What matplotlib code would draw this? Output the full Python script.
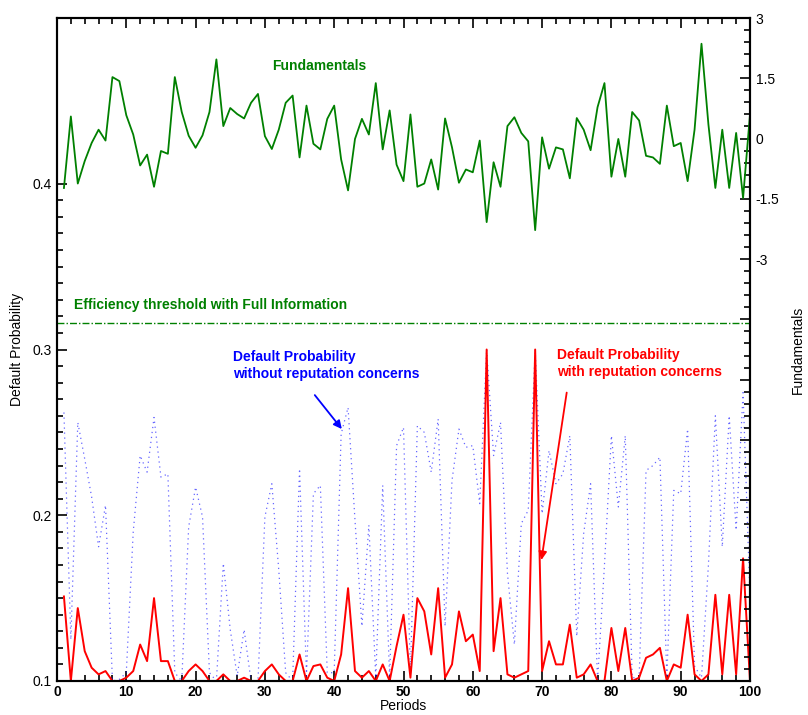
import numpy as np
import matplotlib
matplotlib.use('Agg')
import matplotlib.pyplot as plt
from matplotlib.ticker import FixedLocator, MultipleLocator

plt.rcParams['font.family'] = ['Liberation Sans', 'DejaVu Sans']

# periods 1..100
periods = list(range(1, 101))

# fundamentals (right axis)
fundamentals = [-1.23, 0.55, -1.12, -0.56, -0.11, 0.22, -0.05, 1.53, 1.43, 0.58,
                0.10, -0.67, -0.40, -1.20, -0.31, -0.38, 1.53, 0.66, 0.07, -0.23,
                0.08, 0.66, 1.97, 0.31, 0.76, 0.61, 0.50, 0.89, 1.11, 0.06,
                -0.26, 0.22, 0.89, 1.07, -0.47, 0.82, -0.13, -0.27, 0.49, 0.82,
                -0.52, -1.29, -0.01, 0.49, 0.10, 1.38, -0.27, 0.70, -0.65, -1.06,
                0.60, -1.20, -1.12, -0.52, -1.27, 0.50, -0.22, -1.10, -0.77, -0.84,
                -0.05, -2.08, -0.59, -1.20, 0.31, 0.53, 0.14, -0.07, -2.28, 0.03,
                -0.75, -0.22, -0.27, -0.99, 0.51, 0.22, -0.29, 0.78, 1.38, -0.95,
                -0.01, -0.95, 0.66, 0.45, -0.43, -0.47, -0.63, 0.82, -0.19, -0.11,
                -1.06, 0.22, 2.36, 0.35, -1.23, 0.22, -1.23, 0.14, -1.48, 0.60]

# default probability with reputation concerns
dp_reputation = [0.151, 0.100, 0.144, 0.118, 0.108, 0.104, 0.106, 0.100, 0.100, 0.102,
                 0.106, 0.122, 0.112, 0.150, 0.112, 0.112, 0.100, 0.100, 0.106, 0.110,
                 0.106, 0.100, 0.100, 0.104, 0.100, 0.100, 0.102, 0.100, 0.100, 0.106,
                 0.110, 0.104, 0.100, 0.100, 0.116, 0.100, 0.109, 0.110, 0.102, 0.100,
                 0.116, 0.156, 0.106, 0.102, 0.106, 0.100, 0.110, 0.100, 0.121, 0.140,
                 0.102, 0.150, 0.142, 0.116, 0.156, 0.102, 0.110, 0.142, 0.124, 0.128,
                 0.106, 0.300, 0.118, 0.150, 0.104, 0.102, 0.104, 0.106, 0.300, 0.106,
                 0.124, 0.110, 0.110, 0.134, 0.102, 0.104, 0.110, 0.100, 0.100, 0.132,
                 0.106, 0.132, 0.100, 0.102, 0.114, 0.116, 0.120, 0.100, 0.110, 0.108,
                 0.140, 0.104, 0.100, 0.104, 0.152, 0.104, 0.152, 0.104, 0.174, 0.100]

# default probability without reputation concerns
dp_no_reputation = [0.262, 0.125, 0.256, 0.234, 0.211, 0.181, 0.206, 0.100, 0.101, 0.105,
                    0.190, 0.236, 0.226, 0.259, 0.223, 0.225, 0.105, 0.100, 0.193, 0.217,
                    0.199, 0.105, 0.100, 0.171, 0.131, 0.103, 0.131, 0.100, 0.100, 0.199,
                    0.219, 0.167, 0.105, 0.100, 0.228, 0.103, 0.213, 0.218, 0.105, 0.105,
                    0.249, 0.265, 0.197, 0.133, 0.194, 0.102, 0.218, 0.102, 0.242, 0.253,
                    0.105, 0.254, 0.250, 0.226, 0.258, 0.133, 0.221, 0.252, 0.241, 0.242,
                    0.207, 0.300, 0.236, 0.256, 0.165, 0.122, 0.195, 0.203, 0.300, 0.201,
                    0.239, 0.219, 0.225, 0.248, 0.127, 0.189, 0.219, 0.100, 0.170, 0.248,
                    0.205, 0.248, 0.102, 0.102, 0.227, 0.230, 0.235, 0.102, 0.215, 0.213,
                    0.252, 0.109, 0.102, 0.170, 0.260, 0.181, 0.260, 0.191, 0.274, 0.150]

threshold = 0.316

green = '#008000'

fig = plt.figure(figsize=(8.08, 7.15), dpi=100)
ax = fig.add_axes([57 / 808, 34 / 715, 693 / 808, 663 / 715])

ax.plot(periods, dp_no_reputation, color='blue', lw=0.9, alpha=0.6,
        linestyle=(0, (1, 3)))
ax.plot(periods, dp_reputation, color='red', lw=1.4)
ax.axhline(threshold, color=green, lw=1.0, linestyle=(0, (5, 1.5, 1, 1.5)))

ax.set_xlim(0, 100)
ax.set_ylim(0.1, 0.5)
ax.xaxis.set_major_locator(MultipleLocator(10))
ax.xaxis.set_minor_locator(MultipleLocator(2))
ax.yaxis.set_major_locator(FixedLocator([0.1, 0.2, 0.3, 0.4]))
ax.yaxis.set_minor_locator(FixedLocator(np.arange(0.1, 0.401, 0.01)))
ax.tick_params(which='both', direction='in', top=True, right=False, width=1.2)
ax.tick_params(which='major', length=7)
ax.tick_params(which='minor', length=4)
ax.tick_params(axis='x', which='major', pad=3, labelsize=10)
ax.tick_params(axis='y', which='major', pad=4, labelsize=10)
for lbl in ax.get_xticklabels():
    lbl.set_fontweight('bold')
for sp in ax.spines.values():
    sp.set_linewidth(1.5)

ax.set_xlabel('Periods', fontsize=10, labelpad=0)
ax.set_ylabel('Default Probability', fontsize=10, labelpad=6)

# fundamentals on right axis
ax2 = ax.twinx()
ax2.plot(periods, fundamentals, color=green, lw=1.3)
ax2.set_ylim(-13.5, 3)
right_major = np.arange(-13.5, 3.01, 1.5)
ax2.yaxis.set_major_locator(FixedLocator(right_major))
ax2.set_yticklabels(['%g' % v if v >= -3 else '' for v in right_major])
ax2.yaxis.set_minor_locator(MultipleLocator(0.3))
ax2.tick_params(which='both', direction='in', width=1.2, labelsize=10, pad=4)
ax2.tick_params(which='major', length=7)
ax2.tick_params(which='minor', length=4)
for sp in ax2.spines.values():
    sp.set_linewidth(1.5)
ax2.set_ylabel('Fundamentals', fontsize=10, labelpad=8)

# annotations
ax.text(31.0, 0.471, 'Fundamentals', color=green, fontsize=10,
        fontweight='bold', va='center', ha='left')
ax.text(2.45, 0.327, 'Efficiency threshold with Full Information', color=green,
        fontsize=10, fontweight='bold', va='center', ha='left')
ax.text(25.4, 0.300, 'Default Probability\nwithout reputation concerns', color='blue',
        fontsize=10, fontweight='bold', va='top', ha='left', linespacing=1.3)
ax.text(72.1, 0.301, 'Default Probability\nwith reputation concerns', color='red',
        fontsize=10, fontweight='bold', va='top', ha='left', linespacing=1.3)
ax.annotate('', xy=(41.1, 0.252), xytext=(37.2, 0.2725),
            arrowprops=dict(arrowstyle='-|>', color='blue', lw=1.3,
                            mutation_scale=12, shrinkA=0, shrinkB=0))
ax.annotate('', xy=(69.9, 0.173), xytext=(73.55, 0.274),
            arrowprops=dict(arrowstyle='-|>', color='red', lw=1.3,
                            mutation_scale=12, shrinkA=0, shrinkB=0))

fig.savefig('out.png', dpi=100)
